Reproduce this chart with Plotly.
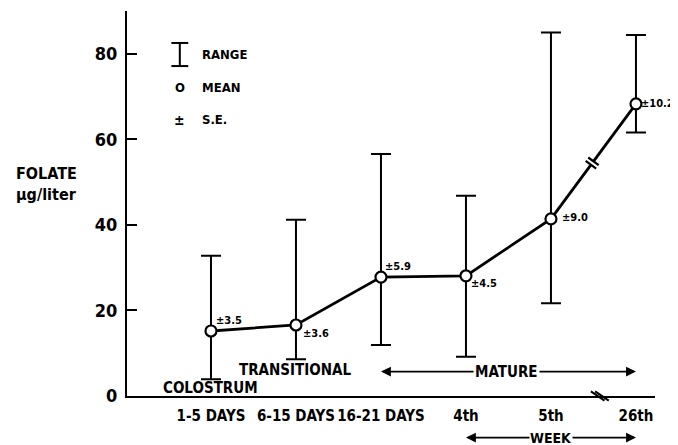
import plotly.graph_objects as go

categories = ["1-5 DAYS", "6-15 DAYS", "16-21 DAYS", "4th", "5th", "26th"]
mean_values = [15.2, 16.6, 27.8, 28.1, 41.4, 68.3]
range_high = [32.8, 41.2, 56.6, 46.8, 85.0, 84.4]
range_low = [3.9, 8.6, 11.9, 9.2, 21.7, 61.6]
se_labels = ["±3.5", "±3.6", "±5.9", "±4.5", "±9.0", "±10.2"]
y_ticks = [0, 20, 40, 60, 80]

FONT = "DejaVu Sans Condensed, Liberation Sans, Arial, sans-serif"
xs = list(range(len(categories)))
err_plus = [h - m for h, m in zip(range_high, mean_values)]
err_minus = [m - l for m, l in zip(mean_values, range_low)]

fig = go.Figure()

t_gap0, t_gap1 = 0.47, 0.50
def lerp(a, b, t):
    return a + (b - a) * t

gx0 = lerp(xs[4], xs[5], t_gap0); gy0 = lerp(mean_values[4], mean_values[5], t_gap0)
gx1 = lerp(xs[4], xs[5], t_gap1); gy1 = lerp(mean_values[4], mean_values[5], t_gap1)

fig.add_trace(go.Scatter(x=xs[:5] + [gx0], y=mean_values[:5] + [gy0], mode="lines",
                         line=dict(color="black", width=2.8), hoverinfo="skip"))
fig.add_trace(go.Scatter(x=[gx1, xs[5]], y=[gy1, mean_values[5]], mode="lines",
                         line=dict(color="black", width=2.8), hoverinfo="skip"))

fig.add_trace(go.Scatter(
    x=xs, y=mean_values, mode="markers",
    marker=dict(symbol="circle", size=11, color="white", line=dict(color="black", width=2.2)),
    error_y=dict(type="data", symmetric=False, array=err_plus, arrayminus=err_minus,
                 color="black", thickness=2, width=10),
))

px_per_x = 85.0
px_per_y = 385 / 90
dxp = (xs[5] - xs[4]) * px_per_x
dyp = (mean_values[5] - mean_values[4]) * px_per_y
L = (dxp ** 2 + dyp ** 2) ** 0.5
half = 6.5
ox = half * dyp / L / px_per_x
oy = -half * dxp / L / px_per_y
for gx, gy in [(gx0, gy0), (gx1, gy1)]:
    fig.add_shape(type="line", x0=gx - ox, y0=gy - oy, x1=gx + ox, y1=gy + oy,
                  xref="x", yref="y", line=dict(color="black", width=2.2))

xb = lerp(xs[4], xs[5], 0.55)
for off in [0.0, 0.05]:
    fig.add_shape(type="line", x0=xb + off - 0.08, x1=xb + off + 0.08,
                  y0=0.012, y1=-0.012, xref="x", yref="paper",
                  line=dict(color="black", width=2))

annotations = []
se_pos = [
    dict(xanchor="left", yanchor="bottom", xshift=3, yshift=2),
    dict(xanchor="left", yanchor="top", xshift=5, yshift=0),
    dict(xanchor="left", yanchor="bottom", xshift=2, yshift=2),
    dict(xanchor="left", yanchor="top", xshift=3, yshift=1),
    dict(xanchor="left", yanchor="middle", xshift=9, yshift=1),
    dict(xanchor="left", yanchor="middle", xshift=3, yshift=0),
]
for x, y, s, p in zip(xs, mean_values, se_labels, se_pos):
    annotations.append(dict(x=x, y=y, xref="x", yref="y", text="<b>" + s + "</b>",
                            showarrow=False, font=dict(size=11, color="black", family=FONT), **p))

annotations.append(dict(x=xs[0], y=1.9, xref="x", yref="y", text="<b>COLOSTRUM</b>",
                        showarrow=False, font=dict(size=15, color="black", family=FONT)))
annotations.append(dict(x=xs[1], y=6.0, xref="x", yref="y", text="<b>TRANSITIONAL</b>",
                        showarrow=False, font=dict(size=15, color="black", family=FONT)))
ym = 5.7
mx = lerp(xs[3], xs[4], 0.48)
for tip in [xs[2], xs[5]]:
    annotations.append(dict(x=tip, y=ym, xref="x", yref="y", ax=mx, ay=ym, axref="x", ayref="y",
                            text="", showarrow=True, arrowhead=2, arrowsize=1.1, arrowwidth=1.8,
                            arrowcolor="black", standoff=0))
annotations.append(dict(x=mx, y=ym, xref="x", yref="y", text="<b>MATURE</b>", showarrow=False,
                        bgcolor="white", font=dict(size=15, color="black", family=FONT)))

yw = -0.108
wx = xs[4]
for tip in [xs[3], xs[5]]:
    annotations.append(dict(x=tip, y=yw, xref="x", yref="y domain", ax=wx, ay=yw, axref="x",
                            ayref="y domain", text="", showarrow=True, arrowhead=2, arrowsize=1.1,
                            arrowwidth=1.8, arrowcolor="black", standoff=0))
annotations.append(dict(x=wx, y=yw, xref="x", yref="y domain", text="<b>WEEK</b>", showarrow=False,
                        bgcolor="white", yanchor="middle", borderpad=0,
                        font=dict(size=14, color="black", family=FONT)))

annotations.append(dict(x=-0.214, y=(396 - 162) / 385, xref="paper", yref="paper",
                        text="<b>FOLATE</b><br><b>μg/liter</b>", align="left",
                        xanchor="left", yanchor="top", showarrow=False,
                        font=dict(size=16, color="black", family=FONT)))

lx = 0.100
ltx = 0.138
fig.add_shape(type="line", x0=lx, x1=lx, y0=0.917, y1=0.857, xref="paper", yref="paper",
              line=dict(color="black", width=2))
for yy in [0.917, 0.857]:
    fig.add_shape(type="line", x0=lx - 0.016, x1=lx + 0.016, y0=yy, y1=yy, xref="paper",
                  yref="paper", line=dict(color="black", width=2))
annotations.append(dict(x=lx, y=0.80, xref="paper", yref="paper", text="<b>O</b>", showarrow=False,
                        xanchor="center", yanchor="middle",
                        font=dict(size=13, color="black", family=FONT)))
annotations.append(dict(x=lx, y=0.717, xref="paper", yref="paper", text="<b>±</b>", showarrow=False,
                        xanchor="center", yanchor="middle",
                        font=dict(size=14, color="black", family=FONT)))
for yy, t in [(0.888, "RANGE"), (0.80, "MEAN"), (0.717, "S.E.")]:
    annotations.append(dict(x=ltx, y=yy, xref="paper", yref="paper", text="<b>" + t + "</b>",
                            xanchor="left", yanchor="middle", showarrow=False,
                            font=dict(size=13, color="black", family=FONT)))

fig.update_layout(
    width=678, height=445,
    margin=dict(l=119, r=31, t=3, b=57, autoexpand=False),
    paper_bgcolor="white", plot_bgcolor="white",
    showlegend=False,
    annotations=annotations,
    font=dict(family=FONT, color="black"),
)
fig.update_xaxes(
    range=[-0.988, 5.224], tickvals=xs, ticktext=["<b>" + c + "</b>" for c in categories],
    showgrid=False, zeroline=False, showline=True, linecolor="black", linewidth=2,
    ticks="", tickangle=0, ticklabelstandoff=5, automargin=False,
    tickfont=dict(size=15, color="black", family=FONT),
)
fig.update_yaxes(
    range=[0, 90], tickvals=y_ticks, ticktext=["<b>" + str(v) + "</b>" for v in y_ticks],
    showgrid=False, zeroline=False, showline=True, linecolor="black", linewidth=2,
    ticks="inside", ticklen=10, tickwidth=2, tickcolor="black", ticklabelstandoff=4,
    automargin=False,
    tickfont=dict(size=18, color="black", family=FONT),
)

fig.write_html("out.html")
